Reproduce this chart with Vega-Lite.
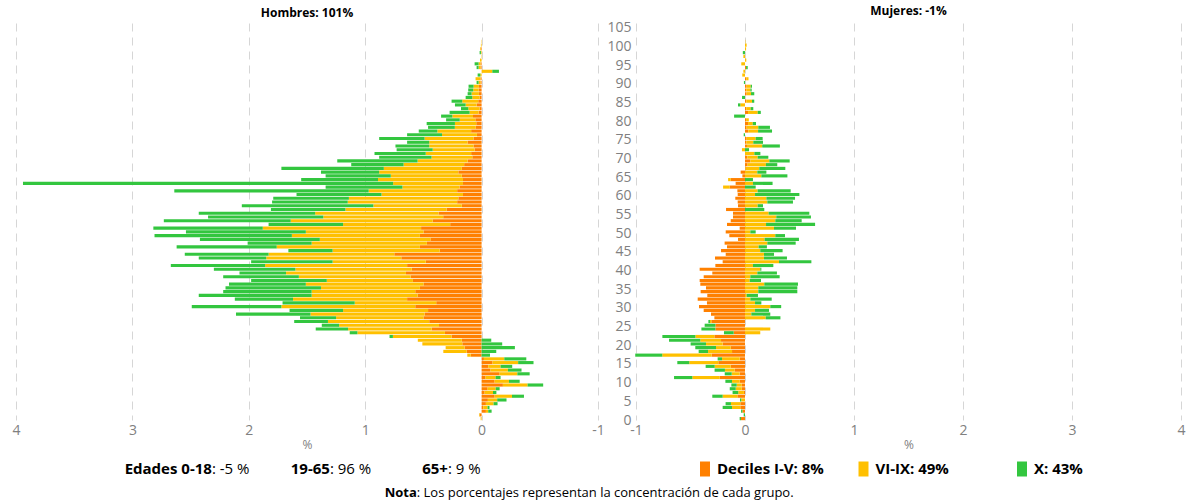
{
  "$schema": "https://vega.github.io/schema/vega-lite/v6.json",
  "padding": {"left": 11, "top": 4, "right": 0, "bottom": 0},
  "background": "white",
  "config": {
    "font": "Open Sans",
    "view": {"stroke": null},
    "axis": {"labelColor": "#808080", "labelFontSize": 14, "titleColor": "#808080", "titleFontSize": 12, "titleFontWeight": "normal", "domain": false, "ticks": false, "gridColor": "#d6d6d6", "gridDash": [8, 6], "gridWidth": 1},
    "title": {"fontSize": 12, "fontWeight": "bold", "anchor": "middle", "offset": 3, "color": "black"},
    "text": {"color": "black"}
  },
  "datasets": {
    "pir": [
      {"sexo":"Hombres","edad":0,"Deciles I-V":0,"VI-IX":0.008,"X":0},
      {"sexo":"Hombres","edad":1,"Deciles I-V":0.017,"VI-IX":0.005,"X":0},
      {"sexo":"Hombres","edad":2,"Deciles I-V":-0.037,"VI-IX":-0.02,"X":-0.029},
      {"sexo":"Hombres","edad":3,"Deciles I-V":-0.014,"VI-IX":-0.037,"X":-0.017},
      {"sexo":"Hombres","edad":4,"Deciles I-V":-0.037,"VI-IX":-0.066,"X":-0.034},
      {"sexo":"Hombres","edad":5,"Deciles I-V":-0.054,"VI-IX":-0.08,"X":-0.08},
      {"sexo":"Hombres","edad":6,"Deciles I-V":-0.112,"VI-IX":-0.149,"X":-0.103},
      {"sexo":"Hombres","edad":7,"Deciles I-V":-0.026,"VI-IX":-0.072,"X":-0.029},
      {"sexo":"Hombres","edad":8,"Deciles I-V":-0.052,"VI-IX":-0.069,"X":-0.034},
      {"sexo":"Hombres","edad":9,"Deciles I-V":-0.183,"VI-IX":-0.212,"X":-0.134},
      {"sexo":"Hombres","edad":10,"Deciles I-V":-0.112,"VI-IX":-0.123,"X":-0.092},
      {"sexo":"Hombres","edad":11,"Deciles I-V":-0.034,"VI-IX":-0.086,"X":-0.043},
      {"sexo":"Hombres","edad":12,"Deciles I-V":-0.155,"VI-IX":-0.152,"X":-0.106},
      {"sexo":"Hombres","edad":13,"Deciles I-V":-0.077,"VI-IX":-0.149,"X":-0.117},
      {"sexo":"Hombres","edad":14,"Deciles I-V":-0.057,"VI-IX":-0.106,"X":-0.1},
      {"sexo":"Hombres","edad":15,"Deciles I-V":-0.094,"VI-IX":-0.22,"X":-0.132},
      {"sexo":"Hombres","edad":16,"Deciles I-V":-0.02,"VI-IX":-0.175,"X":-0.189},
      {"sexo":"Hombres","edad":17,"Deciles I-V":0.094,"VI-IX":0.029,"X":-0.072},
      {"sexo":"Hombres","edad":18,"Deciles I-V":0.129,"VI-IX":0.2,"X":-0.126},
      {"sexo":"Hombres","edad":19,"Deciles I-V":0.146,"VI-IX":0.163,"X":-0.286},
      {"sexo":"Hombres","edad":20,"Deciles I-V":0.166,"VI-IX":0.343,"X":-0.177},
      {"sexo":"Hombres","edad":21,"Deciles I-V":0.17,"VI-IX":0.378,"X":-0.083},
      {"sexo":"Hombres","edad":22,"Deciles I-V":0.258,"VI-IX":0.504,"X":0.029},
      {"sexo":"Hombres","edad":23,"Deciles I-V":0.315,"VI-IX":0.752,"X":0.066},
      {"sexo":"Hombres","edad":24,"Deciles I-V":0.429,"VI-IX":0.718,"X":0.278},
      {"sexo":"Hombres","edad":25,"Deciles I-V":0.366,"VI-IX":0.858,"X":0.149},
      {"sexo":"Hombres","edad":26,"Deciles I-V":0.45,"VI-IX":0.87,"X":0.29},
      {"sexo":"Hombres","edad":27,"Deciles I-V":0.5,"VI-IX":0.75,"X":0.31},
      {"sexo":"Hombres","edad":28,"Deciles I-V":0.49,"VI-IX":0.98,"X":0.64},
      {"sexo":"Hombres","edad":29,"Deciles I-V":0.46,"VI-IX":0.73,"X":0.46},
      {"sexo":"Hombres","edad":30,"Deciles I-V":0.57,"VI-IX":1.15,"X":0.77},
      {"sexo":"Hombres","edad":31,"Deciles I-V":0.39,"VI-IX":0.7,"X":0.62},
      {"sexo":"Hombres","edad":32,"Deciles I-V":0.64,"VI-IX":0.98,"X":0.5},
      {"sexo":"Hombres","edad":33,"Deciles I-V":0.55,"VI-IX":0.91,"X":0.97},
      {"sexo":"Hombres","edad":34,"Deciles I-V":0.57,"VI-IX":0.89,"X":0.76},
      {"sexo":"Hombres","edad":35,"Deciles I-V":0.53,"VI-IX":0.85,"X":0.82},
      {"sexo":"Hombres","edad":36,"Deciles I-V":0.5,"VI-IX":1.01,"X":0.66},
      {"sexo":"Hombres","edad":37,"Deciles I-V":0.59,"VI-IX":0.74,"X":0.65},
      {"sexo":"Hombres","edad":38,"Deciles I-V":0.61,"VI-IX":0.96,"X":0.65},
      {"sexo":"Hombres","edad":39,"Deciles I-V":0.65,"VI-IX":1.03,"X":0.4},
      {"sexo":"Hombres","edad":40,"Deciles I-V":0.6,"VI-IX":1.0,"X":0.7},
      {"sexo":"Hombres","edad":41,"Deciles I-V":0.64,"VI-IX":1.22,"X":0.81},
      {"sexo":"Hombres","edad":42,"Deciles I-V":0.48,"VI-IX":0.8,"X":0.7},
      {"sexo":"Hombres","edad":43,"Deciles I-V":0.69,"VI-IX":1.16,"X":0.58},
      {"sexo":"Hombres","edad":44,"Deciles I-V":0.75,"VI-IX":1.08,"X":0.72},
      {"sexo":"Hombres","edad":45,"Deciles I-V":0.36,"VI-IX":0.92,"X":0.38},
      {"sexo":"Hombres","edad":46,"Deciles I-V":0.53,"VI-IX":1.23,"X":0.86},
      {"sexo":"Hombres","edad":47,"Deciles I-V":0.47,"VI-IX":0.99,"X":0.55},
      {"sexo":"Hombres","edad":48,"Deciles I-V":0.44,"VI-IX":0.95,"X":1.03},
      {"sexo":"Hombres","edad":49,"Deciles I-V":0.53,"VI-IX":1.1,"X":1.18},
      {"sexo":"Hombres","edad":50,"Deciles I-V":0.5,"VI-IX":1.01,"X":1.03},
      {"sexo":"Hombres","edad":51,"Deciles I-V":0.52,"VI-IX":1.36,"X":0.94},
      {"sexo":"Hombres","edad":52,"Deciles I-V":0.27,"VI-IX":0.92,"X":0.64},
      {"sexo":"Hombres","edad":53,"Deciles I-V":0.42,"VI-IX":1.22,"X":1.09},
      {"sexo":"Hombres","edad":54,"Deciles I-V":0.33,"VI-IX":1.03,"X":0.99},
      {"sexo":"Hombres","edad":55,"Deciles I-V":0.37,"VI-IX":1.06,"X":1.0},
      {"sexo":"Hombres","edad":56,"Deciles I-V":0.3,"VI-IX":0.87,"X":0.64},
      {"sexo":"Hombres","edad":57,"Deciles I-V":0.17,"VI-IX":0.76,"X":1.13},
      {"sexo":"Hombres","edad":58,"Deciles I-V":0.21,"VI-IX":0.94,"X":0.65},
      {"sexo":"Hombres","edad":59,"Deciles I-V":0.2,"VI-IX":0.94,"X":0.65},
      {"sexo":"Hombres","edad":60,"Deciles I-V":0.16,"VI-IX":0.7,"X":0.73},
      {"sexo":"Hombres","edad":61,"Deciles I-V":0.21,"VI-IX":0.76,"X":1.67},
      {"sexo":"Hombres","edad":62,"Deciles I-V":0.19,"VI-IX":0.49,"X":0.66},
      {"sexo":"Hombres","edad":63,"Deciles I-V":0.16,"VI-IX":0.6,"X":3.18},
      {"sexo":"Hombres","edad":64,"Deciles I-V":0.16,"VI-IX":0.73,"X":0.66},
      {"sexo":"Hombres","edad":65,"Deciles I-V":0.17,"VI-IX":0.61,"X":0.56},
      {"sexo":"Hombres","edad":66,"Deciles I-V":0.2,"VI-IX":0.68,"X":0.5},
      {"sexo":"Hombres","edad":67,"Deciles I-V":0.17,"VI-IX":0.67,"X":0.88},
      {"sexo":"Hombres","edad":68,"Deciles I-V":0.15,"VI-IX":0.52,"X":0.45},
      {"sexo":"Hombres","edad":69,"Deciles I-V":0.12,"VI-IX":0.43,"X":0.69},
      {"sexo":"Hombres","edad":70,"Deciles I-V":0.08,"VI-IX":0.35,"X":0.45},
      {"sexo":"Hombres","edad":71,"Deciles I-V":0.09,"VI-IX":0.39,"X":0.44},
      {"sexo":"Hombres","edad":72,"Deciles I-V":0.06,"VI-IX":0.36,"X":0.31},
      {"sexo":"Hombres","edad":73,"Deciles I-V":0.07,"VI-IX":0.38,"X":0.29},
      {"sexo":"Hombres","edad":74,"Deciles I-V":0.12,"VI-IX":0.33,"X":0.19},
      {"sexo":"Hombres","edad":75,"Deciles I-V":0.07,"VI-IX":0.42,"X":0.39},
      {"sexo":"Hombres","edad":76,"Deciles I-V":0.04,"VI-IX":0.3,"X":0.3},
      {"sexo":"Hombres","edad":77,"Deciles I-V":0.09,"VI-IX":0.29,"X":0.16},
      {"sexo":"Hombres","edad":78,"Deciles I-V":0.05,"VI-IX":0.18,"X":0.23},
      {"sexo":"Hombres","edad":79,"Deciles I-V":0.046,"VI-IX":0.183,"X":0.243},
      {"sexo":"Hombres","edad":80,"Deciles I-V":0.054,"VI-IX":0.134,"X":0.117},
      {"sexo":"Hombres","edad":81,"Deciles I-V":0.074,"VI-IX":0.177,"X":0.097},
      {"sexo":"Hombres","edad":82,"Deciles I-V":0.026,"VI-IX":0.077,"X":0.172},
      {"sexo":"Hombres","edad":83,"Deciles I-V":0.017,"VI-IX":0.097,"X":0.063},
      {"sexo":"Hombres","edad":84,"Deciles I-V":0.043,"VI-IX":0.094,"X":0.092},
      {"sexo":"Hombres","edad":85,"Deciles I-V":0.029,"VI-IX":0.137,"X":0.092},
      {"sexo":"Hombres","edad":86,"Deciles I-V":0.017,"VI-IX":0.063,"X":0.057},
      {"sexo":"Hombres","edad":87,"Deciles I-V":0.023,"VI-IX":0.063,"X":0.034},
      {"sexo":"Hombres","edad":88,"Deciles I-V":0.026,"VI-IX":0.046,"X":0.043},
      {"sexo":"Hombres","edad":89,"Deciles I-V":0.023,"VI-IX":0.046,"X":0.043},
      {"sexo":"Hombres","edad":90,"Deciles I-V":0.009,"VI-IX":0.017,"X":0.017},
      {"sexo":"Hombres","edad":91,"Deciles I-V":0.009,"VI-IX":0.043,"X":0},
      {"sexo":"Hombres","edad":92,"Deciles I-V":0,"VI-IX":0.011,"X":0.023},
      {"sexo":"Hombres","edad":93,"Deciles I-V":0,"VI-IX":-0.092,"X":-0.057},
      {"sexo":"Hombres","edad":94,"Deciles I-V":0.009,"VI-IX":0.017,"X":0.017},
      {"sexo":"Hombres","edad":95,"Deciles I-V":0.009,"VI-IX":0.017,"X":0.034},
      {"sexo":"Hombres","edad":96,"Deciles I-V":0,"VI-IX":0.014,"X":0},
      {"sexo":"Hombres","edad":97,"Deciles I-V":0,"VI-IX":0.003,"X":0},
      {"sexo":"Hombres","edad":98,"Deciles I-V":0,"VI-IX":0.006,"X":0.011},
      {"sexo":"Hombres","edad":99,"Deciles I-V":0.006,"VI-IX":0.006,"X":0},
      {"sexo":"Hombres","edad":100,"Deciles I-V":0,"VI-IX":0.006,"X":0},
      {"sexo":"Hombres","edad":101,"Deciles I-V":0,"VI-IX":0.003,"X":0},
      {"sexo":"Mujeres","edad":0,"Deciles I-V":-0.037,"VI-IX":0,"X":-0.012},
      {"sexo":"Mujeres","edad":1,"Deciles I-V":0,"VI-IX":0,"X":-0.012},
      {"sexo":"Mujeres","edad":2,"Deciles I-V":-0.024,"VI-IX":0,"X":-0.012},
      {"sexo":"Mujeres","edad":3,"Deciles I-V":-0.043,"VI-IX":-0.076,"X":-0.086},
      {"sexo":"Mujeres","edad":4,"Deciles I-V":-0.043,"VI-IX":-0.086,"X":-0.049},
      {"sexo":"Mujeres","edad":5,"Deciles I-V":0,"VI-IX":-0.034,"X":-0.012},
      {"sexo":"Mujeres","edad":6,"Deciles I-V":-0.07,"VI-IX":-0.135,"X":-0.095},
      {"sexo":"Mujeres","edad":7,"Deciles I-V":-0.01,"VI-IX":-0.052,"X":-0.052},
      {"sexo":"Mujeres","edad":8,"Deciles I-V":-0.03,"VI-IX":-0.055,"X":-0.055},
      {"sexo":"Mujeres","edad":9,"Deciles I-V":-0.03,"VI-IX":-0.046,"X":-0.049},
      {"sexo":"Mujeres","edad":10,"Deciles I-V":-0.049,"VI-IX":-0.07,"X":-0.061},
      {"sexo":"Mujeres","edad":11,"Deciles I-V":-0.232,"VI-IX":-0.251,"X":-0.168},
      {"sexo":"Mujeres","edad":12,"Deciles I-V":-0.049,"VI-IX":-0.073,"X":-0.064},
      {"sexo":"Mujeres","edad":13,"Deciles I-V":-0.095,"VI-IX":-0.089,"X":-0.095},
      {"sexo":"Mujeres","edad":14,"Deciles I-V":-0.131,"VI-IX":-0.147,"X":-0.083},
      {"sexo":"Mujeres","edad":15,"Deciles I-V":-0.245,"VI-IX":-0.266,"X":-0.11},
      {"sexo":"Mujeres","edad":16,"Deciles I-V":-0.049,"VI-IX":-0.162,"X":-0.04},
      {"sexo":"Mujeres","edad":17,"Deciles I-V":-0.306,"VI-IX":-0.453,"X":-0.248},
      {"sexo":"Mujeres","edad":18,"Deciles I-V":-0.119,"VI-IX":-0.22,"X":-0.086},
      {"sexo":"Mujeres","edad":19,"Deciles I-V":-0.131,"VI-IX":-0.135,"X":-0.19},
      {"sexo":"Mujeres","edad":20,"Deciles I-V":-0.205,"VI-IX":-0.153,"X":-0.141},
      {"sexo":"Mujeres","edad":21,"Deciles I-V":-0.22,"VI-IX":-0.19,"X":-0.287},
      {"sexo":"Mujeres","edad":22,"Deciles I-V":-0.281,"VI-IX":-0.174,"X":-0.303},
      {"sexo":"Mujeres","edad":23,"Deciles I-V":-0.104,"VI-IX":0.14,"X":-0.089},
      {"sexo":"Mujeres","edad":24,"Deciles I-V":-0.272,"VI-IX":0.232,"X":-0.128},
      {"sexo":"Mujeres","edad":25,"Deciles I-V":-0.272,"VI-IX":0,"X":-0.098},
      {"sexo":"Mujeres","edad":26,"Deciles I-V":-0.309,"VI-IX":-0.012,"X":-0.015},
      {"sexo":"Mujeres","edad":27,"Deciles I-V":-0.281,"VI-IX":0.19,"X":0.135},
      {"sexo":"Mujeres","edad":28,"Deciles I-V":-0.312,"VI-IX":0.058,"X":0.174},
      {"sexo":"Mujeres","edad":29,"Deciles I-V":-0.379,"VI-IX":0.092,"X":0.128},
      {"sexo":"Mujeres","edad":30,"Deciles I-V":-0.422,"VI-IX":0.232,"X":0.1},
      {"sexo":"Mujeres","edad":31,"Deciles I-V":-0.349,"VI-IX":0.092,"X":0.058},
      {"sexo":"Mujeres","edad":32,"Deciles I-V":-0.434,"VI-IX":0.049,"X":0.196},
      {"sexo":"Mujeres","edad":33,"Deciles I-V":-0.346,"VI-IX":0.015,"X":0.104},
      {"sexo":"Mujeres","edad":34,"Deciles I-V":-0.407,"VI-IX":0.122,"X":0.358},
      {"sexo":"Mujeres","edad":35,"Deciles I-V":-0.358,"VI-IX":0.122,"X":0.358},
      {"sexo":"Mujeres","edad":36,"Deciles I-V":-0.41,"VI-IX":0.177,"X":0.309},
      {"sexo":"Mujeres","edad":37,"Deciles I-V":-0.416,"VI-IX":0.043,"X":0.104},
      {"sexo":"Mujeres","edad":38,"Deciles I-V":-0.379,"VI-IX":0.049,"X":0.269},
      {"sexo":"Mujeres","edad":39,"Deciles I-V":-0.3,"VI-IX":0.113,"X":0.18},
      {"sexo":"Mujeres","edad":40,"Deciles I-V":-0.416,"VI-IX":0.14,"X":0.01},
      {"sexo":"Mujeres","edad":41,"Deciles I-V":-0.272,"VI-IX":0.073,"X":0.187},
      {"sexo":"Mujeres","edad":42,"Deciles I-V":-0.205,"VI-IX":0.312,"X":0.297},
      {"sexo":"Mujeres","edad":43,"Deciles I-V":-0.275,"VI-IX":0.174,"X":0.211},
      {"sexo":"Mujeres","edad":44,"Deciles I-V":-0.177,"VI-IX":0.174,"X":0.092},
      {"sexo":"Mujeres","edad":45,"Deciles I-V":-0.22,"VI-IX":0.14,"X":0.205},
      {"sexo":"Mujeres","edad":46,"Deciles I-V":-0.165,"VI-IX":0.125,"X":0.076},
      {"sexo":"Mujeres","edad":47,"Deciles I-V":-0.187,"VI-IX":0.205,"X":0.26},
      {"sexo":"Mujeres","edad":48,"Deciles I-V":-0.064,"VI-IX":0.18,"X":0.315},
      {"sexo":"Mujeres","edad":49,"Deciles I-V":-0.144,"VI-IX":0.278,"X":0.089},
      {"sexo":"Mujeres","edad":50,"Deciles I-V":-0.177,"VI-IX":0.049,"X":0.049},
      {"sexo":"Mujeres","edad":51,"Deciles I-V":-0.049,"VI-IX":0.266,"X":0.202},
      {"sexo":"Mujeres","edad":52,"Deciles I-V":-0.165,"VI-IX":0.193,"X":0.45},
      {"sexo":"Mujeres","edad":53,"Deciles I-V":-0.131,"VI-IX":0.278,"X":0.242},
      {"sexo":"Mujeres","edad":54,"Deciles I-V":-0.11,"VI-IX":0.287,"X":0.318},
      {"sexo":"Mujeres","edad":55,"Deciles I-V":-0.11,"VI-IX":0.217,"X":0.373},
      {"sexo":"Mujeres","edad":56,"Deciles I-V":-0.174,"VI-IX":0,"X":0.177},
      {"sexo":"Mujeres","edad":57,"Deciles I-V":-0.064,"VI-IX":0.116,"X":0.049},
      {"sexo":"Mujeres","edad":58,"Deciles I-V":-0.067,"VI-IX":0.205,"X":0.235},
      {"sexo":"Mujeres","edad":59,"Deciles I-V":-0.089,"VI-IX":0.196,"X":0.263},
      {"sexo":"Mujeres","edad":60,"Deciles I-V":-0.067,"VI-IX":0.092,"X":0.407},
      {"sexo":"Mujeres","edad":61,"Deciles I-V":-0.07,"VI-IX":0.116,"X":0.303},
      {"sexo":"Mujeres","edad":62,"Deciles I-V":-0.14,"VI-IX":-0.061,"X":0.098},
      {"sexo":"Mujeres","edad":63,"Deciles I-V":-0.086,"VI-IX":0.073,"X":0.18},
      {"sexo":"Mujeres","edad":64,"Deciles I-V":-0.131,"VI-IX":-0.024,"X":0.073},
      {"sexo":"Mujeres","edad":65,"Deciles I-V":-0.024,"VI-IX":0.15,"X":0.239},
      {"sexo":"Mujeres","edad":66,"Deciles I-V":-0.04,"VI-IX":0.113,"X":0.083},
      {"sexo":"Mujeres","edad":67,"Deciles I-V":0.006,"VI-IX":0.125,"X":0.239},
      {"sexo":"Mujeres","edad":68,"Deciles I-V":0.024,"VI-IX":0.168,"X":0.104},
      {"sexo":"Mujeres","edad":69,"Deciles I-V":0.049,"VI-IX":0.174,"X":0.187},
      {"sexo":"Mujeres","edad":70,"Deciles I-V":0.021,"VI-IX":0.095,"X":0.098},
      {"sexo":"Mujeres","edad":71,"Deciles I-V":0,"VI-IX":0.086,"X":0.055},
      {"sexo":"Mujeres","edad":72,"Deciles I-V":0,"VI-IX":-0.028,"X":0.037},
      {"sexo":"Mujeres","edad":73,"Deciles I-V":0.018,"VI-IX":0.14,"X":0.162},
      {"sexo":"Mujeres","edad":74,"Deciles I-V":0.012,"VI-IX":0.064,"X":0.089},
      {"sexo":"Mujeres","edad":75,"Deciles I-V":0.015,"VI-IX":0.083,"X":0.064},
      {"sexo":"Mujeres","edad":76,"Deciles I-V":0,"VI-IX":0,"X":-0.012},
      {"sexo":"Mujeres","edad":77,"Deciles I-V":0.03,"VI-IX":0.09,"X":0.128},
      {"sexo":"Mujeres","edad":78,"Deciles I-V":0.015,"VI-IX":0.107,"X":0.107},
      {"sexo":"Mujeres","edad":79,"Deciles I-V":0.028,"VI-IX":0.043,"X":0.03},
      {"sexo":"Mujeres","edad":80,"Deciles I-V":0.01,"VI-IX":0.025,"X":0},
      {"sexo":"Mujeres","edad":81,"Deciles I-V":0,"VI-IX":0,"X":-0.1},
      {"sexo":"Mujeres","edad":82,"Deciles I-V":0.028,"VI-IX":0.089,"X":0.028},
      {"sexo":"Mujeres","edad":83,"Deciles I-V":0.012,"VI-IX":0.04,"X":0.024},
      {"sexo":"Mujeres","edad":84,"Deciles I-V":0,"VI-IX":-0.043,"X":-0.021},
      {"sexo":"Mujeres","edad":85,"Deciles I-V":0.012,"VI-IX":0.052,"X":0.021},
      {"sexo":"Mujeres","edad":86,"Deciles I-V":0,"VI-IX":0,"X":-0.027},
      {"sexo":"Mujeres","edad":87,"Deciles I-V":0.015,"VI-IX":0.04,"X":0.03},
      {"sexo":"Mujeres","edad":88,"Deciles I-V":0.012,"VI-IX":0.037,"X":0.012},
      {"sexo":"Mujeres","edad":89,"Deciles I-V":0.015,"VI-IX":0.037,"X":0.012},
      {"sexo":"Mujeres","edad":90,"Deciles I-V":0,"VI-IX":0,"X":-0.01},
      {"sexo":"Mujeres","edad":91,"Deciles I-V":0.012,"VI-IX":0.02,"X":0},
      {"sexo":"Mujeres","edad":92,"Deciles I-V":0,"VI-IX":-0.025,"X":0},
      {"sexo":"Mujeres","edad":93,"Deciles I-V":0,"VI-IX":-0.015,"X":0},
      {"sexo":"Mujeres","edad":94,"Deciles I-V":0.01,"VI-IX":0,"X":0.015},
      {"sexo":"Mujeres","edad":95,"Deciles I-V":0,"VI-IX":-0.034,"X":0},
      {"sexo":"Mujeres","edad":96,"Deciles I-V":0,"VI-IX":0.012,"X":0},
      {"sexo":"Mujeres","edad":97,"Deciles I-V":0,"VI-IX":-0.015,"X":0},
      {"sexo":"Mujeres","edad":98,"Deciles I-V":0,"VI-IX":0,"X":-0.02},
      {"sexo":"Mujeres","edad":99,"Deciles I-V":0,"VI-IX":0.01,"X":0},
      {"sexo":"Mujeres","edad":100,"Deciles I-V":0,"VI-IX":0.015,"X":0},
      {"sexo":"Mujeres","edad":101,"Deciles I-V":0,"VI-IX":0.003,"X":0}
    ]
  },
  "spacing": 9,
  "vconcat": [
    {
      "bounds": "flush",
      "spacing": 38,
      "hconcat": [
        {
          "width": 582,
          "height": 397,
          "title": "Hombres: 101%",
          "data": {"name": "pir"},
          "transform": [
            {"filter": "datum.sexo === 'Hombres'"},
            {"fold": ["Deciles I-V", "VI-IX", "X"], "as": ["grupo", "pct"]}
          ],
          "mark": {"type": "bar", "binSpacing": 0.6},
          "encoding": {
            "y": {"field": "edad", "type": "quantitative", "bin": {"binned": true, "step": 1}, "scale": {"domain": [0, 106.3], "nice": false, "zero": false}, "axis": null},
            "x": {"field": "pct", "type": "quantitative", "stack": "zero", "scale": {"domain": [-1, 4], "reverse": true, "nice": false}, "axis": {"values": [-1, 0, 1, 2, 3, 4], "labelExpr": "'' + datum.value", "title": "%", "grid": true, "labelPadding": 3, "titlePadding": 2, "labelFlush": false}},
            "color": {"field": "grupo", "type": "nominal", "scale": {"domain": ["Deciles I-V", "VI-IX", "X"], "range": ["#ff8000", "#ffc000", "#33c63f"]}, "legend": null}
          }
        },
        {
          "width": 545,
          "height": 397,
          "title": "Mujeres: -1%",
          "data": {"name": "pir"},
          "transform": [
            {"filter": "datum.sexo === 'Mujeres'"},
            {"fold": ["Deciles I-V", "VI-IX", "X"], "as": ["grupo", "pct"]}
          ],
          "mark": {"type": "bar", "binSpacing": 0.6},
          "encoding": {
            "y": {"field": "edad", "type": "quantitative", "bin": {"binned": true, "step": 1}, "scale": {"domain": [0, 106.3], "nice": false, "zero": false}, "axis": {"values": [0, 5, 10, 15, 20, 25, 30, 35, 40, 45, 50, 55, 60, 65, 70, 75, 80, 85, 90, 95, 100, 105], "title": null, "grid": false, "labelPadding": 5}},
            "x": {"field": "pct", "type": "quantitative", "stack": "zero", "scale": {"domain": [-1, 4], "nice": false}, "axis": {"values": [-1, 0, 1, 2, 3, 4], "labelExpr": "'' + datum.value", "title": "%", "grid": true, "labelPadding": 3, "titlePadding": 2, "labelFlush": false}},
            "color": {"field": "grupo", "type": "nominal", "scale": {"domain": ["Deciles I-V", "VI-IX", "X"], "range": ["#ff8000", "#ffc000", "#33c63f"]}, "legend": null}
          }
        }
      ]
    },
    {
      "spacing": 6,
      "vconcat": [
        {
          "bounds": "flush",
          "spacing": 148,
          "hconcat": [
            {
              "width": 472,
              "height": 20,
              "data": {"values": [
                {"grupo": "Edades 0-18", "valor": ": -5 %"},
                {"grupo": "19-65", "valor": ": 96 %"},
                {"grupo": "65+", "valor": ": 9 %"}
              ]},
              "encoding": {
                "x": {"field": "grupo", "type": "nominal", "sort": null, "scale": {"type": "point", "padding": 1, "align": 0.83}, "axis": null}
              },
              "layer": [
                {"mark": {"type": "text", "align": "right", "fontWeight": "bold", "fontSize": 15}, "encoding": {"text": {"field": "grupo"}}},
                {"mark": {"type": "text", "align": "left", "fontSize": 15}, "encoding": {"text": {"field": "valor"}}}
              ]
            },
            {
              "width": 545,
              "height": 20,
              "data": {"values": [
                {"grupo": "Deciles I-V", "etiqueta": "Deciles I-V: 8%"},
                {"grupo": "VI-IX", "etiqueta": "VI-IX: 49%"},
                {"grupo": "X", "etiqueta": "X: 43%"}
              ]},
              "encoding": {
                "x": {"field": "grupo", "type": "nominal", "sort": null, "scale": {"type": "point", "padding": 0.719, "align": 0.3026}, "axis": null}
              },
              "layer": [
                {"mark": {"type": "point", "filled": true, "opacity": 1, "size": 100, "shape": "M-1,-1.5H1V1.5H-1Z"}, "encoding": {"color": {"field": "grupo", "type": "nominal", "legend": null}}},
                {"mark": {"type": "text", "align": "left", "dx": 12, "fontWeight": "bold", "fontSize": 15}, "encoding": {"text": {"field": "etiqueta"}}}
              ]
            }
          ]
        },
        {
          "width": 1165,
          "height": 16,
          "data": {"values": [{"nota": "Nota", "texto": ": Los porcentajes representan la concentración de cada grupo."}]},
          "encoding": {
            "x": {"field": "nota", "type": "nominal", "scale": {"type": "point", "padding": 0.5, "align": 0.344}, "axis": null}
          },
          "layer": [
            {"mark": {"type": "text", "align": "right", "fontWeight": "bold", "fontSize": 13}, "encoding": {"text": {"field": "nota"}}},
            {"mark": {"type": "text", "align": "left", "fontSize": 13}, "encoding": {"text": {"field": "texto"}}}
          ]
        }
      ]
    }
  ]
}
